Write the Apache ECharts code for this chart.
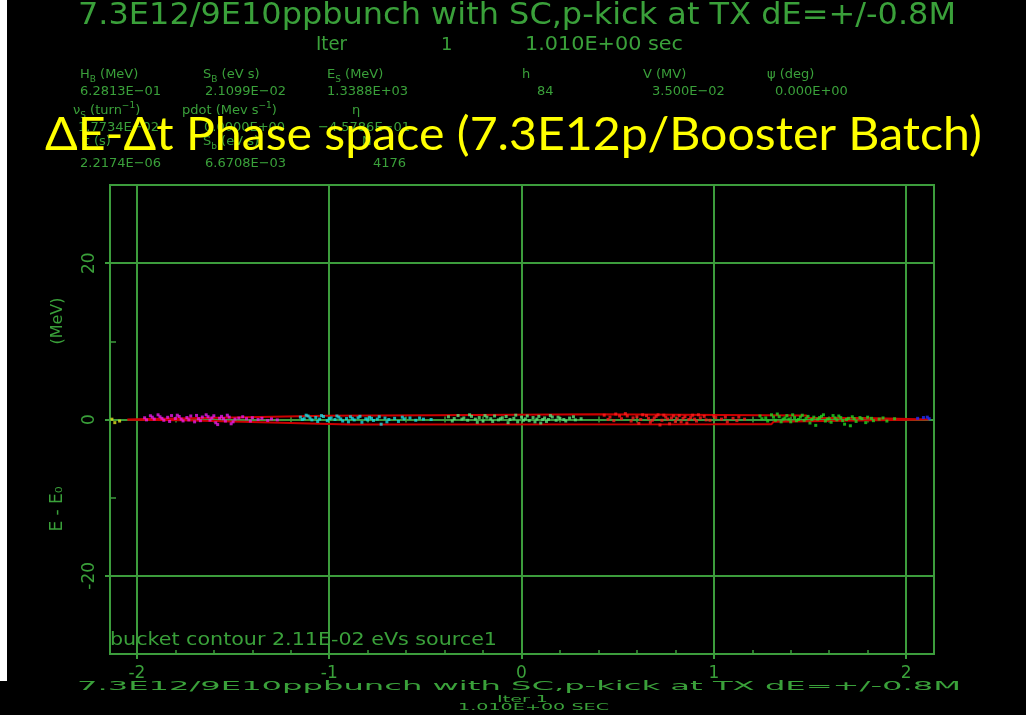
<!DOCTYPE html>
<html>
<head>
<meta charset="utf-8">
<script src="https://cdn.jsdelivr.net/npm/echarts@6/dist/echarts.min.js"></script>
<style>
  html, body { margin: 0; padding: 0; background: #000; }
  #chart { width: 1026px; height: 715px; }
</style>
</head>
<body>
<div id="chart"></div>
<script>
// ---- axis ticks ----
const xTicks = [-2, -1, 0, 1, 2];
const xMinorTicks = [-1.8, -1.6, -1.4, -1.2, -0.8, -0.6, -0.4, -0.2, 0.2, 0.4, 0.6, 0.8, 1.2, 1.4, 1.6, 1.8];
const yTicks = [-20, 0, 20];
const yMinorTicks = [-10, 10];

// ---- bucket contour (time in us, energy offset in MeV) ----
const bucketUpper = [[-2.05, 0.0], [-1.95, 0.05], [-1.5, 0.25], [-1.02, 0.47], [-0.47, 0.55], [-0.46, 0.68],
  [0.39, 0.66], [0.40, 0.52], [1.48, 0.52], [1.49, 0.2], [1.79, 0.2], [1.80, 0.04], [2.12, 0.0]];
const bucketLower = [[-2.05, -0.03], [-1.76, -0.1], [-1.0, -0.56], [-0.89, -0.64], [1.0, -0.62], [1.30, -0.6],
  [1.31, -0.3], [1.74, -0.3], [1.75, -0.13], [2.12, -0.02]];

// ---- macro-particles, one array per source bunch ----
const yellowPts = [[-2.13, 0.04], [-2.115, -0.4], [-2.09, -0.2]];
const magentaPts = [[-1.96, 0.22], [-1.93, 0.48], [-1.91, 0.05], [-1.88, 0.35], [-1.86, -0.1], [-1.84, 0.28],
  [-1.82, 0.5], [-1.80, 0.12], [-1.78, 0.38], [-1.76, -0.18], [-1.74, 0.25], [-1.72, 0.45], [-1.70, -0.3],
  [-1.68, 0.1], [-1.66, 0.32], [-1.64, 0.6], [-1.62, -0.08], [-1.61, 0.2], [-1.59, -0.42], [-1.57, 0.15],
  [-1.56, 0.4], [-1.54, -0.2], [-1.52, 0.3], [-1.51, -0.55], [-1.49, 0.05], [-1.47, 0.18], [-1.43, 0.1],
  [-1.40, 0.22], [-1.37, 0.0], [-1.35, 0.15], [-1.32, -0.12], [-1.30, 0.08], [-1.27, -0.05],
  [-1.95, -0.05], [-1.92, 0.3], [-1.89, 0.6], [-1.87, 0.15], [-1.83, -0.25], [-1.79, 0.55], [-1.77, 0.05],
  [-1.73, -0.05], [-1.69, 0.52], [-1.67, -0.15], [-1.63, 0.35], [-1.60, 0.48], [-1.58, -0.65], [-1.55, 0.1],
  [-1.53, 0.55], [-1.50, -0.3], [-1.45, 0.35], [-1.41, -0.2]];
const cyanPts = [[-1.15, 0.3], [-1.13, 0.1], [-1.11, 0.45], [-1.09, -0.05], [-1.07, 0.25], [-1.05, 0.05],
  [-1.03, 0.38], [-1.01, -0.15], [-0.99, 0.2], [-0.97, 0.0], [-0.95, 0.3], [-0.93, -0.2], [-0.91, 0.12],
  [-0.89, 0.35], [-0.87, -0.05], [-0.85, 0.22], [-0.83, -0.35], [-0.81, 0.1], [-0.79, 0.28], [-0.77, -0.12],
  [-0.75, 0.05], [-0.73, -0.6], [-0.71, 0.18], [-0.69, 0.0], [-0.66, 0.15], [-0.64, -0.25], [-0.61, 0.08],
  [-0.58, 0.2], [-0.55, -0.1], [-0.51, 0.05], [-0.47, 0.0],
  [-1.14, 0.0], [-1.12, 0.55], [-1.10, 0.2], [-1.06, -0.25], [-1.04, 0.5], [-1.00, 0.1], [-0.96, 0.45],
  [-0.94, 0.08], [-0.90, -0.3], [-0.88, 0.15], [-0.84, 0.4], [-0.80, -0.05], [-0.78, 0.15], [-0.74, 0.35],
  [-0.70, -0.3], [-0.62, 0.3], [-0.53, 0.2]];
const mintPts = [[-0.38, 0.35], [-0.35, 0.12], [-0.33, 0.5], [-0.30, 0.2], [-0.28, -0.1], [-0.26, 0.4],
  [-0.24, 0.05], [-0.22, 0.25], [-0.20, -0.2], [-0.18, 0.3], [-0.16, 0.1], [-0.14, 0.45], [-0.12, -0.05],
  [-0.10, 0.22], [-0.08, 0.38], [-0.06, 0.0], [-0.04, 0.15], [-0.02, -0.3], [0.0, 0.3], [0.02, 0.08],
  [0.04, -0.15], [0.06, 0.25], [0.08, 0.05], [0.10, -0.45], [0.12, 0.2], [0.14, 0.0], [0.16, 0.32],
  [0.18, -0.1], [0.20, 0.12], [0.22, 0.0], [0.25, 0.18], [0.28, -0.05], [0.31, 0.1],
  [-0.36, -0.2], [-0.31, 0.05], [-0.27, 0.6], [-0.23, -0.35], [-0.19, 0.5], [-0.15, -0.25], [-0.11, 0.1],
  [-0.07, -0.4], [-0.03, 0.55], [0.01, -0.1], [0.03, 0.45], [0.07, -0.3], [0.09, 0.4], [0.11, 0.0],
  [0.13, -0.25], [0.15, 0.5], [0.19, 0.3], [0.23, -0.2], [0.27, 0.35]];
const redPts = [[0.43, 0.55], [0.46, 0.3], [0.49, 0.7], [0.52, 0.1], [0.55, 0.45], [0.57, -0.2], [0.60, 0.35],
  [0.62, 0.0], [0.65, 0.5], [0.67, -0.35], [0.69, 0.2], [0.71, 0.6], [0.73, -0.1], [0.75, 0.3], [0.77, -0.55],
  [0.79, 0.45], [0.81, 0.1], [0.83, -0.3], [0.85, 0.35], [0.87, 0.0], [0.89, 0.55], [0.91, -0.2], [0.93, 0.2],
  [0.95, 0.4], [0.98, -0.1], [1.01, 0.25], [1.04, 0.05], [1.07, -0.3], [1.10, 0.15], [1.13, 0.3], [1.16, 0.05],
  [0.45, 0.0], [0.48, -0.15], [0.51, 0.45], [0.54, 0.75], [0.58, 0.2], [0.61, -0.5], [0.63, 0.6], [0.66, 0.15],
  [0.68, -0.1], [0.70, 0.4], [0.72, -0.7], [0.74, 0.55], [0.76, 0.05], [0.78, 0.2], [0.80, -0.25], [0.82, 0.5],
  [0.84, 0.15], [0.86, -0.45], [0.88, 0.25], [0.90, 0.05], [0.92, 0.6], [0.96, -0.05], [1.00, 0.45],
  [1.06, 0.3], [1.12, -0.15]];
const greenPts = [[1.24, 0.45], [1.27, 0.2], [1.30, 0.6], [1.32, -0.1], [1.34, 0.35], [1.36, 0.05], [1.38, 0.5],
  [1.40, -0.3], [1.42, 0.25], [1.44, 0.0], [1.46, 0.55], [1.48, 0.15], [1.50, -0.45], [1.52, 0.3], [1.54, 0.05],
  [1.56, 0.4], [1.58, -0.2], [1.60, 0.1], [1.62, 0.5], [1.64, -0.05], [1.66, 0.25], [1.68, -0.6], [1.70, 0.15],
  [1.72, 0.35], [1.74, -0.25], [1.77, 0.1], [1.80, 0.3], [1.83, -0.15], [1.86, 0.05], [1.90, -0.2], [1.94, 0.1],
  [1.25, 0.1], [1.28, -0.2], [1.31, 0.3], [1.33, 0.7], [1.35, -0.3], [1.37, 0.2], [1.39, 0.05], [1.41, 0.6],
  [1.43, -0.15], [1.45, 0.3], [1.47, -0.1], [1.49, 0.4], [1.51, 0.0], [1.53, -0.75], [1.55, 0.25], [1.57, 0.6],
  [1.59, 0.05], [1.61, -0.35], [1.63, 0.2], [1.65, 0.45], [1.67, -0.15], [1.69, 0.0], [1.71, -0.8], [1.73, 0.1],
  [1.76, 0.25], [1.79, -0.4], [1.82, 0.15], [1.88, 0.2]];
const bluePts = [[2.06, 0.15], [2.09, 0.25], [2.11, 0.3], [2.12, 0.1]];

// ---- run parameters ----
const runTitle = '7.3E12/9E10ppbunch with SC,p-kick at TX dE=+/-0.8M';
const iterNo = '1';
const iterTime = '1.010E+00';
const slideTitle = '\u0394E-\u0394t Phase space (7.3E12p/Booster Batch)';
const contourNote = 'bucket contour 2.11E-02 eVs source1';

const GREEN_TXT = '#3aa03a';
const GREEN_LINE = '#3c9c3c';

// ---- text helpers ----
const measureCtx = document.createElement('canvas').getContext('2d');
function textWidth(text, font) { measureCtx.font = font; return measureCtx.measureText(text).width; }

// text stretched horizontally to span a given width
function fitText(text, font, left, midY, width, fill) {
  return {
    type: 'text', x: left, y: midY, scaleX: width / textWidth(text, font), silent: true,
    style: { text: text, font: font, fill: fill, textAlign: 'left', textVerticalAlign: 'middle' }
  };
}

function plainText(text, font, left, midY, fill) {
  return { type: 'text', x: left, y: midY, silent: true,
    style: { text: text, font: font, fill: fill, textAlign: 'left', textVerticalAlign: 'middle' } };
}

// label built from normal / subscript / superscript pieces
function pieceLabel(left, midY, pieces, size) {
  const out = [];
  let cx = left;
  pieces.forEach(function (p) {
    const kind = p[1] || 'n';
    const fs = kind === 'n' ? size : Math.round(size * 0.72);
    const dy = kind === 'sub' ? size * 0.32 : (kind === 'sup' ? -size * 0.38 : 0);
    const font = fs + 'px "DejaVu Sans"';
    out.push(plainText(p[0], font, cx, midY + dy, GREEN_TXT));
    cx += textWidth(p[0], font);
  });
  return out;
}

const PS = 13;
const paramRows = [
  [80, 75, [['H'], ['B', 'sub'], [' (MeV)']]],
  [203, 75, [['S'], ['B', 'sub'], [' (eV s)']]],
  [327, 75, [['E'], ['S', 'sub'], [' (MeV)']]],
  [522, 75, [['h']]],
  [643, 75, [['V (MV)']]],
  [767, 75, [['\u03c8 (deg)']]],
  [80, 92, [['6.2813E\u221201']]],
  [205, 92, [['2.1099E\u221202']]],
  [327, 92, [['1.3388E+03']]],
  [537, 92, [['84']]],
  [652, 92, [['3.500E\u221202']]],
  [775, 92, [['0.000E+00']]],
  [73, 111, [['\u03bd'], ['S', 'sub'], [' (turn'], ['\u22121', 'sup'], [')']]],
  [182, 111, [['pdot (Mev s'], ['\u22121', 'sup'], [')']]],
  [352, 111, [['\u03b7']]],
  [78, 128, [['1.7734E\u221202']]],
  [204, 128, [['0.0000E+00']]],
  [318, 128, [['\u22124.5786E\u221201']]],
  [82, 142, [['\u03c4 (s)']]],
  [203, 142, [['S'], ['b', 'sub'], [' (eV s)']]],
  [362, 142, [['N']]],
  [80, 164, [['2.2174E\u221206']]],
  [205, 164, [['6.6708E\u221203']]],
  [373, 164, [['4176']]]
];

const graphics = [
  { type: 'rect', shape: { x: 0, y: 0, width: 7, height: 681 }, style: { fill: '#ffffff' }, silent: true },
  fitText(runTitle, '30px "DejaVu Sans"', 78, 16.5, 878, GREEN_TXT),
  fitText('Iter', '19px "DejaVu Sans"', 316, 45, 31, GREEN_TXT),
  plainText(iterNo, '18px "DejaVu Sans"', 441, 45, GREEN_TXT),
  fitText(iterTime + ' sec', '19px "DejaVu Sans"', 525, 45, 158, GREEN_TXT),
  fitText(contourNote, '18px "DejaVu Sans"', 110, 640, 387, GREEN_TXT),
  fitText(runTitle, '12px "DejaVu Sans"', 77, 687, 884, GREEN_TXT),
  fitText('Iter ' + iterNo, '9px "DejaVu Sans"', 497, 699.5, 51, GREEN_TXT),
  fitText(iterTime + ' SEC', '9px "DejaVu Sans"', 458, 708, 151, GREEN_TXT),
  { type: 'text', x: 58, y: 321, rotation: Math.PI / 2, silent: true,
    style: { text: '(MeV)', font: '16px "DejaVu Sans"', fill: GREEN_TXT, textAlign: 'center', textVerticalAlign: 'middle' } },
  { type: 'text', x: 58, y: 509, rotation: Math.PI / 2, silent: true,
    style: { text: 'E - E\u2080', font: '17px "DejaVu Sans"', fill: GREEN_TXT, textAlign: 'center', textVerticalAlign: 'middle' } }
];
paramRows.forEach(function (r) { pieceLabel(r[0], r[1], r[2], PS).forEach(function (e) { graphics.push(e); }); });
graphics.push(fitText(slideTitle, '47px Lato', 45, 135, 937, '#ffff00'));

const X_MIN = -2.14, X_MAX = 2.145;
const plainX = {
  type: 'value', min: X_MIN, max: X_MAX, position: 'bottom',
  axisLine: { show: false, onZero: false }, axisLabel: { show: false }, splitLine: { show: false }
};

function particles(data, color) {
  return { type: 'scatter', data: data, symbol: 'rect', symbolSize: 3, itemStyle: { color: color }, z: 3, silent: true };
}

const option = {
  backgroundColor: '#000000',
  animation: false,
  grid: { left: 110, top: 185, width: 824, height: 469, show: true, borderColor: GREEN_LINE, borderWidth: 2,
    backgroundColor: 'transparent' },
  xAxis: [
    {
      type: 'value', min: X_MIN, max: X_MAX, position: 'bottom',
      axisLine: { show: false, onZero: false },
      axisTick: { show: true, customValues: xTicks, length: 5, lineStyle: { color: GREEN_LINE, width: 2 } },
      axisLabel: { customValues: xTicks, color: GREEN_TXT, fontSize: 17, fontFamily: 'DejaVu Sans', margin: 11 },
      splitLine: { show: true, lineStyle: { color: GREEN_LINE, width: 2 } }
    },
    Object.assign({}, plainX, {
      axisTick: { show: true, inside: true, customValues: xMinorTicks, length: 4, lineStyle: { color: GREEN_LINE, width: 1.5 } }
    }),
    Object.assign({}, plainX, {
      axisLine: { show: false, onZero: true },
      axisTick: { show: true, inside: true, customValues: xMinorTicks, length: 3, lineStyle: { color: GREEN_LINE, width: 1.5 } }
    }),
    Object.assign({}, plainX, {
      axisLine: { show: false, onZero: true },
      axisTick: { show: true, inside: false, customValues: xMinorTicks, length: 3, lineStyle: { color: GREEN_LINE, width: 1.5 } }
    })
  ],
  yAxis: [
    {
      type: 'value', min: -30, max: 30, position: 'left',
      axisLine: { show: false, onZero: false },
      axisTick: { show: true, customValues: yTicks, length: 5, lineStyle: { color: GREEN_LINE, width: 2 } },
      axisLabel: { customValues: yTicks, rotate: 90, color: GREEN_TXT, fontSize: 17, fontFamily: 'DejaVu Sans', margin: 12 },
      splitLine: { show: true, lineStyle: { color: GREEN_LINE, width: 2 } }
    },
    {
      type: 'value', min: -30, max: 30, position: 'left',
      axisLine: { show: false, onZero: false },
      axisTick: { show: true, inside: true, customValues: yMinorTicks, length: 6, lineStyle: { color: GREEN_LINE, width: 1.5 } },
      axisLabel: { show: false }, splitLine: { show: false }
    }
  ],
  graphic: { elements: graphics },
  series: [
    { type: 'line', name: 'bucket', data: bucketUpper.concat(bucketLower.slice().reverse()).concat([bucketUpper[0]]),
      showSymbol: false, symbol: 'none', lineStyle: { color: '#cc0000', width: 2 }, z: 2, silent: true },
    particles(yellowPts, '#e0e020'),
    particles(magentaPts, '#e81ce8'),
    particles(cyanPts, '#19d9e0'),
    particles(mintPts, '#5fe07a'),
    particles(redPts, '#ff1c1c'),
    particles(greenPts, '#21d421'),
    particles(bluePts, '#2030ff')
  ]
};

const chart = echarts.init(document.getElementById('chart'), null, { renderer: 'canvas' });
chart.setOption(option);
</script>
</body>
</html>
